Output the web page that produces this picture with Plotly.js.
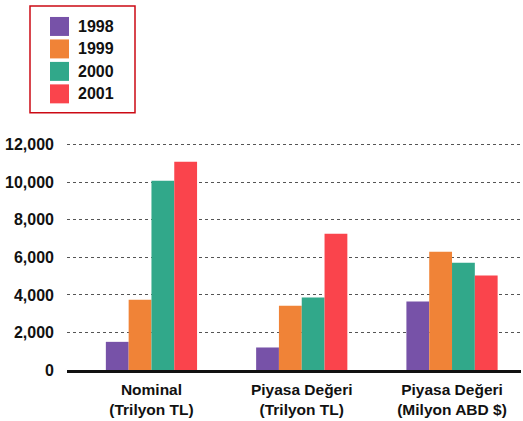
<!DOCTYPE html>
<html>
<head>
<meta charset="utf-8">
<script src="https://cdn.plot.ly/plotly-3.0.1.min.js"></script>
<style>html,body{margin:0;padding:0;background:#fff;}#chart{width:523px;height:421px;}</style>
</head>
<body>
<div id="chart"></div>
<script>
var categories = ["Nominal<br>(Trilyon TL)", "Piyasa Değeri<br>(Trilyon TL)", "Piyasa Değeri<br>(Milyon ABD $)"];
var years = ["1998", "1999", "2000", "2001"];
var v1998 = [1500, 1200, 3650];
var v1999 = [3750, 3430, 6300];
var v2000 = [10080, 3860, 5720];
var v2001 = [11100, 7260, 5030];
var yTicks = [0, 2000, 4000, 6000, 8000, 10000, 12000];
var yTickText = ["0", "2,000", "4,000", "6,000", "8,000", "10,000", "12,000"];

var seriesValues = [v1998, v1999, v2000, v2001];
var colors = ["#7752a8", "#f08337", "#31a88a", "#fa444c"];
var FONT = "Liberation Sans, Arial, Helvetica, sans-serif";

var traces = years.map(function (yr, i) {
  return {
    type: "bar",
    name: yr,
    x: categories,
    y: seriesValues[i],
    marker: { color: colors[i], line: { width: 0 } },
    showlegend: false,
    hoverinfo: "skip"
  };
});

// plot-area geometry helpers for the legend box (pixels -> paper)
var L = 67, T = 142.2, B = 50.5;
var W = 523 - L - 2, H = 421 - T - B;
function px(x) { return (x - L) / W; }
function py(y) { return (T + H - y) / H; }

var shapes = [{
  type: "rect", xref: "paper", yref: "paper",
  x0: px(30), x1: px(135), y0: py(6), y1: py(113),
  line: { color: "#cc0a14", width: 1.5 }, fillcolor: "rgba(0,0,0,0)"
}];
var annotations = [];
var rowCenters = [26.5, 49, 71.5, 94];
years.forEach(function (yr, i) {
  var c = rowCenters[i];
  shapes.push({
    type: "rect", xref: "paper", yref: "paper",
    x0: px(50), x1: px(69), y0: py(c + 9.5), y1: py(c - 9.5),
    line: { width: 0 }, fillcolor: colors[i]
  });
  annotations.push({
    xref: "paper", yref: "paper", x: px(76), y: py(c),
    xanchor: "left", yanchor: "middle", showarrow: false,
    text: "<b>" + yr + "</b>",
    font: { family: FONT, size: 16, color: "#111" }
  });
});

var layout = {
  width: 523, height: 421,
  margin: { l: L, r: 2, t: T, b: B, pad: 0 },
  paper_bgcolor: "#fff", plot_bgcolor: "#fff",
  barmode: "group", bargap: 0.393, bargroupgap: 0,
  font: { family: FONT, color: "#111" },
  xaxis: {
    type: "category",
    range: [-0.562, 2.459],
    showgrid: false, zeroline: false,
    showline: true, linecolor: "#111", linewidth: 2.5,
    ticks: "", ticklabelstandoff: 4,
    tickfont: { family: FONT, size: 15.5, color: "#111", weight: "bold" },
    fixedrange: true
  },
  yaxis: {
    range: [0, 12150],
    tickvals: yTicks, ticktext: yTickText,
    showgrid: true, gridcolor: "#555", griddash: "dot", gridwidth: 1,
    zeroline: false, showline: false,
    ticks: "", ticklabelstandoff: 12,
    tickfont: { family: FONT, size: 16, color: "#111", weight: "bold" },
    fixedrange: true
  },
  shapes: shapes,
  annotations: annotations,
  showlegend: false
};

Plotly.newPlot("chart", traces, layout, { displayModeBar: false, staticPlot: true });
</script>
</body>
</html>
